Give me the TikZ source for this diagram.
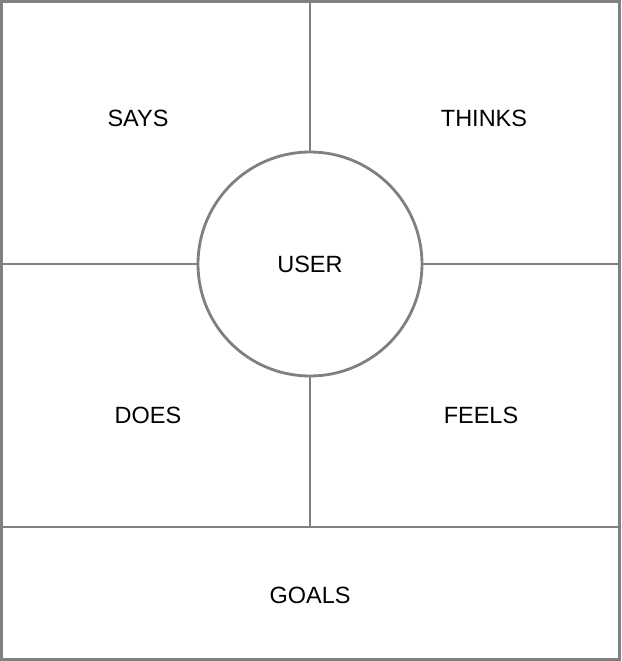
\documentclass[tikz,border=0pt]{standalone}
\usepackage{fontspec}
\setmainfont{Liberation Sans}
\definecolor{linegray}{HTML}{808080}
\begin{document}
\begin{tikzpicture}[x=1pt,y=-1pt,
  edge/.style={draw=linegray,line width=2.8pt},
  lbl/.style={font=\fontsize{23.5}{28}\selectfont,text=black,inner sep=0pt}]
\useasboundingbox (0,0) rectangle (621,661);
\fill[white] (0,0) rectangle (621,661);
\coordinate (tm) at (310,1.4);
\coordinate (lm) at (1.4,264);
\coordinate (rm) at (619.6,264);
\coordinate (bm) at (310,527);
\coordinate (bl) at (1.4,527);
\coordinate (br) at (619.6,527);
\node[circle,edge,minimum size=224pt,inner sep=0pt,lbl] (user) at (310,264) {USER};
\draw[edge] (tm) -- (user.north);
\draw[edge] (lm) -- (user.west);
\draw[edge] (user.east) -- (rm);
\draw[edge] (user.south) -- (bm);
\draw[edge] (bl) -- (br);
\draw[edge] (1.4,1.4) rectangle (619.6,659.6);
\node[lbl] (says) at (138,118) {SAYS};
\node[lbl] (thinks) at (484,118) {THINKS};
\node[lbl] (does) at (148,415) {DOES};
\node[lbl] (feels) at (481,415) {FEELS};
\node[lbl] (goals) at (310,595) {GOALS};
\end{tikzpicture}
\end{document}
